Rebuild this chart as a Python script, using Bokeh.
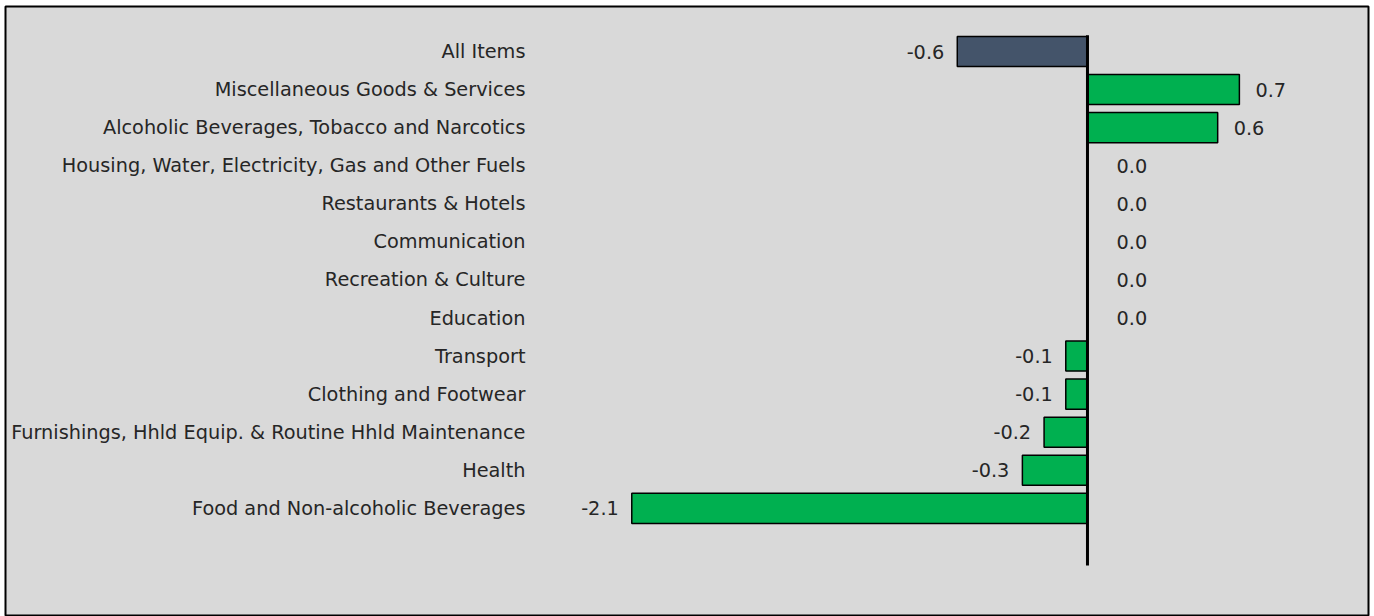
from bokeh.plotting import figure
from bokeh.models import Range1d, ColumnDataSource
from bokeh.core.properties import value
from bokeh.embed import file_html
from bokeh.resources import INLINE
import numpy as np

categories = [
    "All Items",
    "Miscellaneous Goods & Services",
    "Alcoholic Beverages, Tobacco and Narcotics",
    "Housing, Water, Electricity, Gas and Other Fuels",
    "Restaurants & Hotels",
    "Communication",
    "Recreation & Culture",
    "Education",
    "Transport",
    "Clothing and Footwear",
    "Furnishings, Hhld Equip. & Routine Hhld Maintenance",
    "Health",
    "Food and Non-alcoholic Beverages",
]
values = [-0.6, 0.7, 0.6, 0.0, 0.0, 0.0, 0.0, 0.0, -0.1, -0.1, -0.2, -0.3, -2.1]

n = len(categories)
ys = np.arange(n)
vals = np.array(values)
colors = ["#44546A"] + ["#00B050"] * (n - 1)
labels = [f"{v:.1f}" for v in values]

FONT = "DejaVu Sans"
FS = "19.3px"
TXT = "#262626"

p = figure(width=1374, height=616, output_backend="svg", toolbar_location=None,
           x_range=Range1d(-4.986, 1.295), y_range=Range1d(14.84, -1.182),
           min_border_left=5, min_border_right=6, min_border_top=6, min_border_bottom=0)
p.axis.visible = False
p.grid.visible = False
p.background_fill_color = "#D9D9D9"
p.border_fill_color = "white"
p.outline_line_color = "black"
p.outline_line_width = 2

bar_h = 0.79
src = ColumnDataSource(dict(y=ys, v=vals, c=colors, cat=categories, lab=labels,
                            zero=np.zeros(n)))
p.hbar(y="y", left="zero", right="v", height=bar_h, fill_color="c",
       line_color="black", line_width=1.5, source=src)

# zero axis line
p.segment(x0=[0], y0=[-bar_h / 2 - 0.03], x1=[0], y1=[n + 0.5],
          line_color="black", line_width=3)

# category labels (right-aligned in the left margin)
p.text(x=-2.59, y="y", text="cat", source=src, text_align="right",
       text_baseline="middle", text_font=value(FONT), text_font_size=FS,
       text_color=TXT)

# value labels
pos = vals > 0
zer = vals == 0
neg = vals < 0
for mask, align, off in ((pos, "left", 16), (zer, "left", 29), (neg, "right", -13)):
    s = ColumnDataSource(dict(x=vals[mask], y=ys[mask],
                              t=[l for l, m in zip(labels, mask) if m]))
    p.text(x="x", y="y", text="t", source=s, text_align=align,
           text_baseline="middle", x_offset=off, text_font=value(FONT),
           text_font_size=FS, text_color=TXT)

open("out.html", "w").write(file_html(p, INLINE))
